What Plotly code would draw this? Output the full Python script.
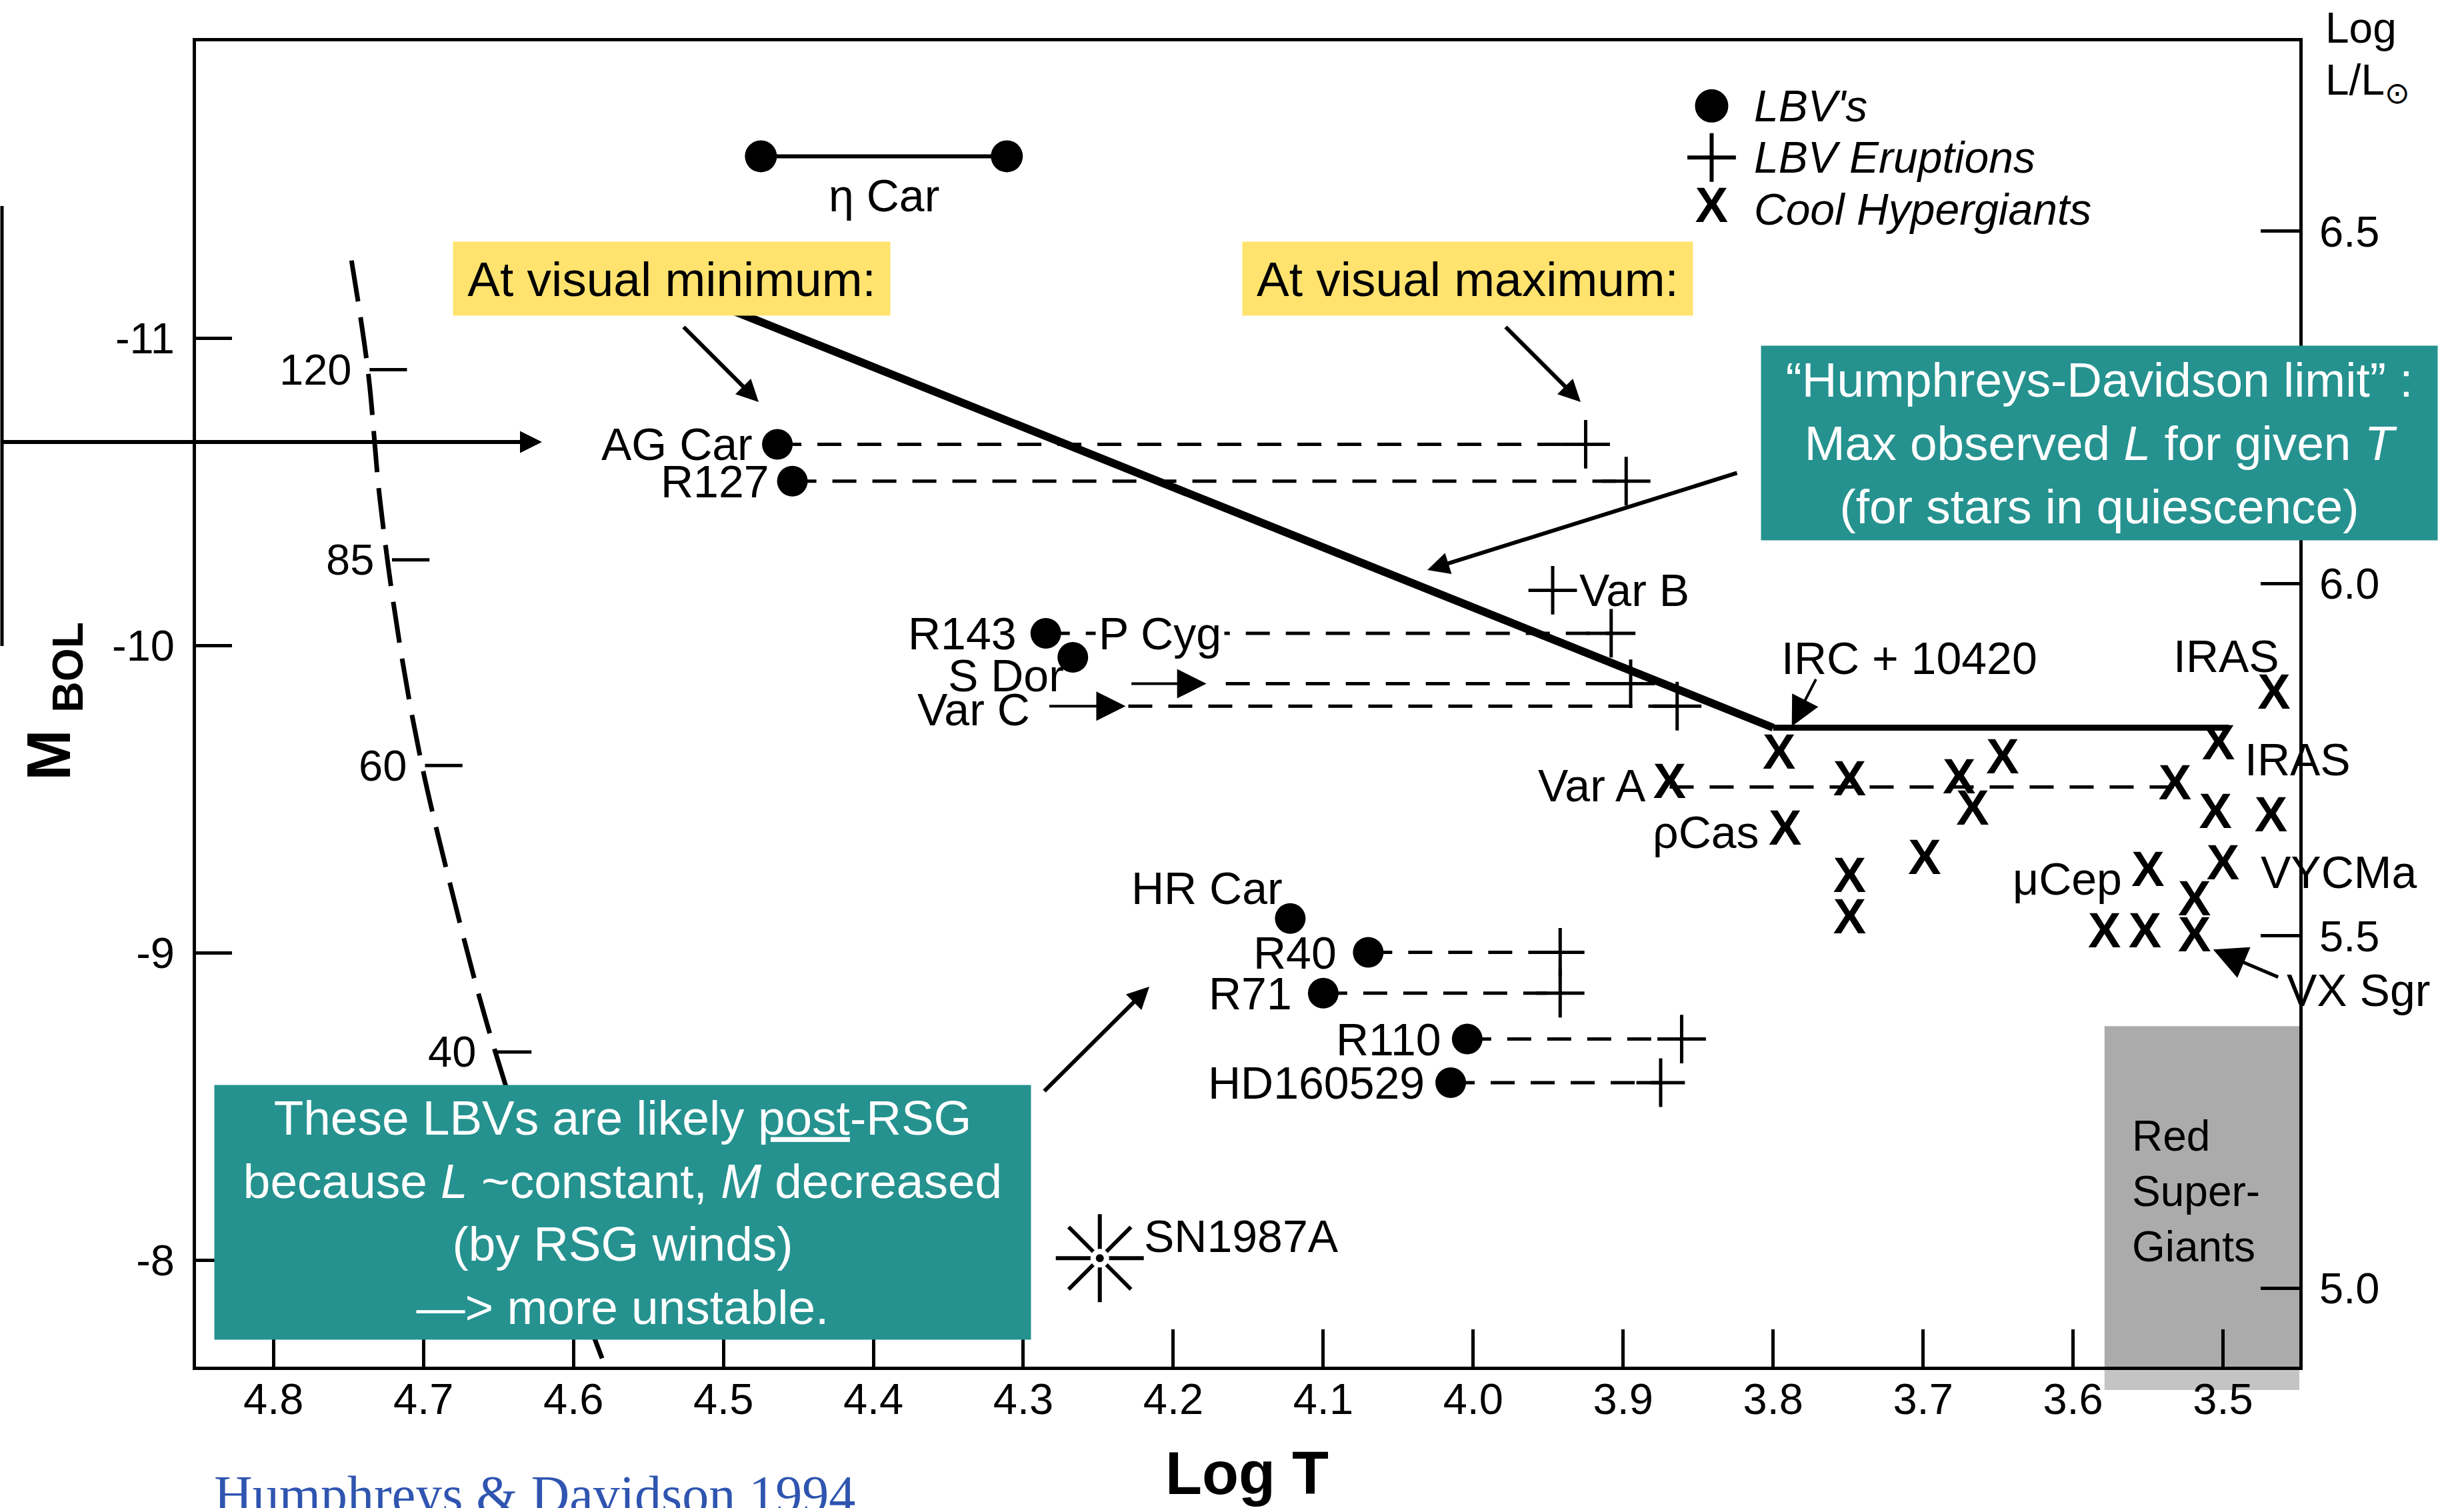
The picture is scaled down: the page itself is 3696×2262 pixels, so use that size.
import plotly.graph_objects as go

W, H = 3696, 2262
SANS = "Liberation Sans, Arial, Helvetica, sans-serif"
SERIF = "Liberation Serif, Times New Roman, serif"
TEAL = "#25928F"
YELLOW = "#FFE36E"
INK = "black"

# ---------------- axes ----------------
LOGT_RANGE = [4.8517, 3.4491]      # hotter to the left
MBOL_RANGE = [-7.654, -11.966]     # brighter upward
LOGL_RANGE = [4.8888, 6.7696]

logT_ticks = [4.8, 4.7, 4.6, 4.5, 4.4, 4.3, 4.2, 4.1, 4.0, 3.9, 3.8, 3.7, 3.6, 3.5]
logT_ticktext = ["4.8", "4.7", "4.6", "4.5", "4.4", "4.3", "4.2", "4.1", "4.0",
                 "3.9", "3.8", "3.7", "3.6", "3.5"]
mbol_ticks = [-11, -10, -9, -8]
mbol_ticktext = ["-11", "-10", "-9", "-8"]
logL_ticks = [5.0, 5.5, 6.0, 6.5]
logL_ticktext = ["5.0", "5.5", "6.0", "6.5"]

# ---------------- data ----------------
# evolutionary track (dashed) and initial-mass marks
track_logT = [4.748, 4.737, 4.729, 4.716, 4.701, 4.681, 4.657, 4.620, 4.579]
track_mbol = [-11.253, -10.893, -10.473, -10.009, -9.610, -9.200, -8.758, -8.196, -7.657]
mass_labels = ["120", "85", "60", "40"]
mass_logT = [4.736, 4.721, 4.699, 4.653]
mass_mbol = [-10.898, -10.279, -9.610, -8.678]

# eta Car
eta_logT = [4.475, 4.311]
eta_mbol = [-11.592, -11.592]

# Humphreys-Davidson limit
hd_logT = [4.520, 3.800, 3.496]
hd_mbol = [-11.141, -9.733, -9.733]

# LBVs at visual minimum
lbv_names = ["AG Car", "R127", "R143", "", "HR Car", "R40", "R71", "R110", "HD160529"]
lbv_logT = [4.464, 4.454, 4.285, 4.267, 4.122, 4.070, 4.100, 4.004, 4.015]
lbv_mbol = [-10.655, -10.535, -10.040, -9.962, -9.112, -9.002, -8.869, -8.720, -8.578]

# LBV eruptions (visual maximum)
erupt_names = ["AG Car", "R127", "R143", "S Dor", "Var C", "Var B", "R40", "R71", "R110", "HD160529"]
erupt_logT = [3.925, 3.898, 3.908, 3.895, 3.864, 3.947, 3.942, 3.942, 3.861, 3.875]
erupt_mbol = [-10.655, -10.535, -10.040, -9.876, -9.803, -10.180, -9.002, -8.869, -8.720, -8.578]
excursion_start_logT = [4.464, 4.454, 4.285, 4.165, 4.230, None, 4.070, 4.100, 4.004, 4.015]

# cool hypergiants
hyp_names = ["IRC + 10420", "Var A", "", "", "", "", "", "IRAS_low", "", "",
             "\u03c1Cas", "", "", "", "\u03bcCep", "VYCMa", "", "", "", "VX Sgr", "IRAS_up"]
hyp_logT = [3.796, 3.869, 3.749, 3.676, 3.647, 3.667, 3.532, 3.503, 3.505, 3.468,
            3.792, 3.699, 3.749, 3.749, 3.550, 3.500, 3.579, 3.552, 3.519, 3.519, 3.466]
hyp_mbol = [-9.640, -9.545, -9.554, -9.559, -9.625, -9.457, -9.539, -9.671, -9.447, -9.436,
            -9.393, -9.298, -9.239, -9.104, -9.258, -9.280, -9.059, -9.059, -9.163, -9.046, -9.835]
varA_logT = [3.869, 3.532]
varA_mbol = [-9.540, -9.540]

# SN 1987A progenitor
sn_logT = [4.249]
sn_mbol = [-8.007]

# red supergiant region
rsg_logT = [3.579, 3.4491]
rsg_mbol = [-8.762, -7.654]

# legend rows
legend_text = ["<i>LBV's</i>", "<i>LBV Eruptions</i>", "<i>Cool Hypergiants</i>"]
legend_logT = [3.841, 3.841, 3.841]
legend_mbol = [-11.756, -11.588, -11.419]

# ---------------- styles ----------------
TICK_DLOGT = 0.025
DOT = 46
PLUS = 52
XFONT = dict(family=SANS, size=74, color=INK, weight="bold")

lbv_label_style = {   # anchor, xshift, yshift (px)
    "AG Car": ("right", -35, 0), "R127": ("right", -33, 0), "R143": ("right", -42, 0),
    "HR Car": ("right", -9, 46), "R40": ("right", -45, 0), "R71": ("right", -45, 0),
    "R110": ("right", -37, 0), "HD160529": ("right", -37, 0),
}
hyp_label_style = {
    "IRC + 10420": ("center", 195, 147, "IRC + 10420"),
    "Var A": ("right", -33, 0, "Var A"),
    "IRAS_low": ("left", 37, -19, "IRAS"),
    "\u03c1Cas": ("right", -37, 0, "\u03c1Cas"),
    "\u03bcCep": ("right", -37, -8, "\u03bcCep"),
    "VYCMa": ("left", 54, -8, "VYCMa"),
    "VX Sgr": ("left", 136, -77, "VX Sgr"),
    "IRAS_up": ("right", 10, 60, "IRAS"),
}

fig = go.Figure()


def line_trace(x, y, width, dash="solid", shape="linear"):
    fig.add_trace(go.Scatter(x=x, y=y, mode="lines", hoverinfo="skip",
                             line=dict(color=INK, width=width, dash=dash, shape=shape)))


# evolutionary track and mass marks
line_trace(track_logT, track_mbol, 7, "62px,24px", "spline")
tx, ty = [], []
for lt, m in zip(mass_logT, mass_mbol):
    tx += [lt, lt - TICK_DLOGT, None]
    ty += [m, m, None]
line_trace(tx, ty, 5)

# HD limit
line_trace(hd_logT[:2], hd_mbol[:2], 12)
line_trace(hd_logT[1:], hd_mbol[1:], 9)

# eta Car
fig.add_trace(go.Scatter(x=eta_logT, y=eta_mbol, mode="lines+markers", hoverinfo="skip",
                         line=dict(color=INK, width=6),
                         marker=dict(color=INK, size=48, symbol="circle")))

# excursions from minimum to eruption
cx, cy = [], []
for s, e, m in zip(excursion_start_logT, erupt_logT, erupt_mbol):
    if s is None:
        continue
    cx += [s, e, None]
    cy += [m, m, None]
line_trace(cx, cy, 5, "36px,24px")
line_trace(varA_logT, varA_mbol, 5, "36px,24px")

# LBV minimum, eruption symbols
fig.add_trace(go.Scatter(x=lbv_logT, y=lbv_mbol, mode="markers", hoverinfo="skip",
                         marker=dict(color=INK, size=DOT, symbol="circle")))
fig.add_trace(go.Scatter(x=erupt_logT, y=erupt_mbol, mode="markers", hoverinfo="skip",
                         marker=dict(color=INK, size=PLUS, symbol="cross-thin",
                                     line=dict(color=INK, width=5))))
# cool hypergiants drawn as "X"
fig.add_trace(go.Scatter(x=hyp_logT, y=hyp_mbol, mode="text", hoverinfo="skip",
                         text=["X"] * len(hyp_logT), textposition="middle center",
                         textfont=XFONT))

# SN 1987A
fig.add_trace(go.Scatter(x=sn_logT, y=sn_mbol, mode="markers", hoverinfo="skip",
                         marker=dict(size=110, symbol="asterisk-open", color=INK,
                                     line=dict(color=INK, width=6))))
fig.add_trace(go.Scatter(x=sn_logT, y=sn_mbol, mode="markers", hoverinfo="skip",
                         marker=dict(size=28, color="white", symbol="circle")))
fig.add_trace(go.Scatter(x=sn_logT, y=sn_mbol, mode="markers", hoverinfo="skip",
                         marker=dict(size=12, color=INK, symbol="circle")))

# legend symbols
fig.add_trace(go.Scatter(x=legend_logT[:1], y=legend_mbol[:1], mode="markers", hoverinfo="skip",
                         marker=dict(color=INK, size=50, symbol="circle")))
fig.add_trace(go.Scatter(x=legend_logT[1:2], y=legend_mbol[1:2], mode="markers", hoverinfo="skip",
                         marker=dict(color=INK, size=52, symbol="cross-thin",
                                     line=dict(color=INK, width=6))))
fig.add_trace(go.Scatter(x=legend_logT[2:], y=legend_mbol[2:], mode="text", hoverinfo="skip",
                         text=["X"], textposition="middle center", textfont=XFONT))

# secondary axis carrier (log L)
fig.add_trace(go.Scatter(x=[None], y=[None], yaxis="y2", hoverinfo="skip"))

# ---------------- annotations ----------------
ann = []


def label(text, x, y, xanchor="center", dx=0, dy=0, size=68, xref="x", yref="y", **kw):
    d = dict(text=text, x=x, y=y, xref=xref, yref=yref, xanchor=xanchor, yanchor="middle",
             xshift=dx, yshift=dy, showarrow=False,
             font=dict(family=SANS, size=size, color=kw.pop("color", INK)))
    d.update(kw)
    ann.append(d)


def arrow(x, y, ax, ay, width, size, xref="x", yref="y", dx=0, dy=0, head=2):
    ann.append(dict(text="", x=x, y=y, xref=xref, yref=yref, ax=ax, ay=ay,
                    axref="pixel", ayref="pixel", xshift=dx, yshift=dy, showarrow=True,
                    arrowhead=head, arrowsize=size, arrowwidth=width, arrowcolor=INK,
                    standoff=0))


def P(xp, yp):
    return xp / W, 1 - yp / H


# mass labels on the track
for t, lt, m in zip(mass_labels, mass_logT, mass_mbol):
    label(t, lt, m, "right", -25, 0, 65)

# eta Car label
label("\u03b7 Car", sum(eta_logT) / 2, eta_mbol[0], "center", 0, -59)

# LBV labels
for n, lt, m in zip(lbv_names, lbv_logT, lbv_mbol):
    if n in lbv_label_style:
        a, dx, dy = lbv_label_style[n]
        label(n, lt, m, a, dx, dy)

# eruption labels and arrows
i_r143 = lbv_names.index("R143")
label("P Cyg", lbv_logT[i_r143], lbv_mbol[i_r143], "left", 74, 0,
      bgcolor="white", borderpad=4)
i_vb = erupt_names.index("Var B")
label("Var B", erupt_logT[i_vb], erupt_mbol[i_vb], "left", 38, 0)
i_sd = erupt_names.index("S Dor")
label("S Dor", excursion_start_logT[i_sd], erupt_mbol[i_sd], "right", -241, 13)
arrow(excursion_start_logT[i_sd], erupt_mbol[i_sd], -114, 0, 4, 2.2, dx=-29)
i_vc = erupt_names.index("Var C")
label("Var C", excursion_start_logT[i_vc], erupt_mbol[i_vc], "right", -145, -5)
arrow(excursion_start_logT[i_vc], erupt_mbol[i_vc], -116, 0, 4, 2.2, dx=-4)

# hypergiant labels
for n, lt, m in zip(hyp_names, hyp_logT, hyp_mbol):
    if n in hyp_label_style:
        a, dx, dy, t = hyp_label_style[n]
        label(t, lt, m, a, dx, dy)
i_irc = hyp_names.index("IRC + 10420")
arrow(hyp_logT[i_irc], hyp_mbol[i_irc], 37, -72, 4, 2.2, dx=19, dy=45)
i_vx = hyp_names.index("VX Sgr")
arrow(hyp_logT[i_vx], hyp_mbol[i_vx], 99, 42, 5, 2.0, dx=28, dy=-16)

# SN 1987A
label("SN1987A", sn_logT[0], sn_mbol[0], "left", 64, 33)

# legend texts
for t, lt, m in zip(legend_text, legend_logT, legend_mbol):
    label(t, lt, m, "left", 62, 0, 66)

# red supergiants
label("Red<br>Super-<br>Giants", *P(3196, 1787), "left", 0, 0, 64,
      xref="paper", yref="paper", align="left")

# axis titles
label("<b>Log T</b>", *P(1870, 2210), "center", 0, 0, 90, xref="paper", yref="paper")
label("<b>M </b><sub><b>BOL</b></sub>", *P(80, 1052), "center", 0, 0, 92,
      xref="paper", yref="paper", textangle=-90)
label("Log", *P(3486, 42), "left", 0, 0, 64, xref="paper", yref="paper")
label("L/L<sub>\u2299</sub>", *P(3486, 124), "left", 0, 0, 64, xref="paper", yref="paper")

# highlighted notes
def box(text, x0, y0, x1, y1, bg, fg, size=73):
    cx, cy = P((x0 + x1) / 2, (y0 + y1) / 2)
    ann.append(dict(text=text, x=cx, y=cy, xref="paper", yref="paper", xanchor="center",
                    yanchor="middle", showarrow=False, width=x1 - x0, height=y1 - y0,
                    bgcolor=bg, borderpad=0, align="center", valign="middle",
                    font=dict(family=SANS, size=size, color=fg)))


box("At visual minimum:", 680, 363, 1335, 473, YELLOW, INK)
box("At visual maximum:", 1864, 363, 2539, 473, YELLOW, INK)
box("\u201cHumphreys-Davidson limit\u201d :<br>Max observed <i>L</i> for given <i>T</i><br>"
    "(for stars in quiescence)", 2642, 519, 3656, 810, TEAL, "white")
box("These LBVs are likely <u>post</u>-RSG<br>because <i>L</i> ~constant, <i>M</i> decreased<br>"
    "(by RSG winds)<br>\u2014> more unstable.", 322, 1628, 1546, 2009, TEAL, "white")

# note arrows
for hx, hy, tx_, ty_ in [(1138, 603, 1024, 489), (2371, 603, 2257, 489),
                         (2141, 855, 2607, 709), (1724, 1480, 1565, 1638),
                         (813, 663, 0, 663)]:
    arrow(*P(hx, hy), tx_ - hx, ty_ - hy, 6, 1.1, xref="paper", yref="paper")

# citation
ann.append(dict(text="Humphreys & Davidson 1994", x=319 / W, y=1 - 2196 / H,
                xref="paper", yref="paper", xanchor="left", yanchor="top", showarrow=False,
                font=dict(family=SERIF, size=80, color="#2F55B0")))

shapes = [
    dict(type="rect", xref="x", yref="y", x0=rsg_logT[0], x1=rsg_logT[1],
         y0=rsg_mbol[0], y1=rsg_mbol[1], fillcolor="#ABABAB", line=dict(width=0), layer="below"),
    dict(type="rect", xref="x", yref="paper", x0=rsg_logT[0], x1=rsg_logT[1],
         y0=1 - 2085 / H, y1=1 - 2050 / H, fillcolor="#C4C4C4", line=dict(width=0), layer="below"),
    dict(type="line", xref="paper", yref="paper", x0=3 / W, x1=3 / W,
         y0=1 - 309 / H, y1=1 - 969 / H, line=dict(color=INK, width=5)),
]

X_DOM = [294 / W, 3449 / W]
Y_DOM = [1 - 2050 / H, 1 - 62 / H]
tickfont = dict(family=SANS, size=65, color=INK)

fig.update_layout(
    width=W, height=H, autosize=False, margin=dict(l=0, r=0, t=0, b=0, pad=0),
    paper_bgcolor="white", plot_bgcolor="white", showlegend=False,
    xaxis=dict(domain=X_DOM, range=LOGT_RANGE, tickvals=logT_ticks, ticktext=logT_ticktext,
               ticks="inside", ticklen=56, tickwidth=5, tickcolor=INK, showgrid=False,
               zeroline=False, showline=True, linewidth=5, linecolor=INK, mirror=True,
               tickfont=tickfont, ticklabelstandoff=-12),
    yaxis=dict(domain=Y_DOM, range=MBOL_RANGE, tickvals=mbol_ticks, ticktext=mbol_ticktext,
               ticks="inside", ticklen=54, tickwidth=5, tickcolor=INK, showgrid=False,
               zeroline=False, showline=True, linewidth=5, linecolor=INK,
               tickfont=tickfont, ticklabelstandoff=14),
    yaxis2=dict(overlaying="y", side="right", anchor="x", range=LOGL_RANGE,
                tickvals=logL_ticks, ticktext=logL_ticktext, ticks="inside", ticklen=58,
                tickwidth=5, tickcolor=INK, showgrid=False, zeroline=False, showline=True,
                linewidth=5, linecolor=INK, tickfont=tickfont, ticklabelstandoff=12),
    annotations=ann, shapes=shapes,
)

fig.write_html("out.html")
